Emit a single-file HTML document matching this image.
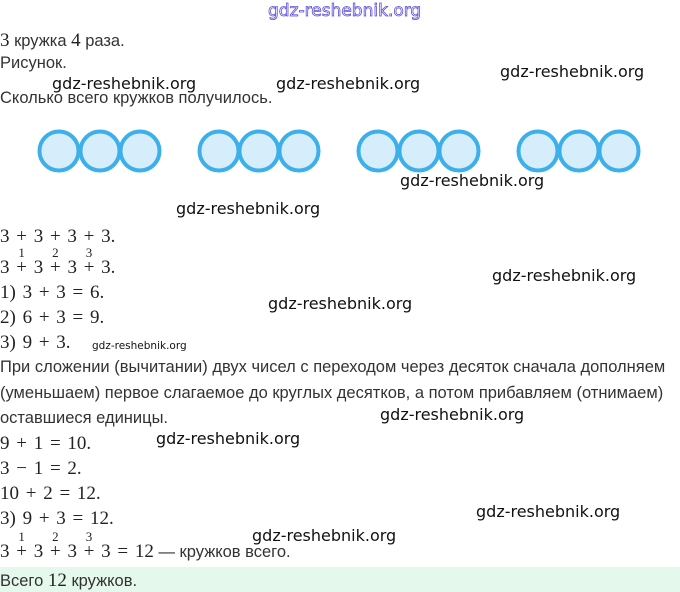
<!DOCTYPE html>
<html><head><meta charset="utf-8"><style>
body{margin:0;width:680px;height:592px;background:#fff;position:relative;overflow:hidden;font-family:"Liberation Sans",sans-serif;color:#333}
.t{position:absolute;left:0;font-size:16.5px;white-space:nowrap;line-height:1}
.m{font-family:"Liberation Serif",serif;font-size:19px;color:#222;word-spacing:2px}
.w{position:absolute;font-family:"DejaVu Sans","Liberation Sans",sans-serif;font-size:16px;color:#111;white-space:nowrap;line-height:1}
.sup{position:relative}
.sup b{position:absolute;font-weight:normal;font-size:13px;top:-11px;left:50%;transform:translateX(-50%)}
</style></head><body>
<div class="w" style="left:268px;top:3px;color:#fff;-webkit-text-stroke:0.8px #5b4fd6;font-size:17px">gdz-reshebnik.org</div>
<div class="t" style="top:31px"><span class="m">3</span> кружка <span class="m">4</span> раза.</div>
<div class="t" style="top:55px">Рисунок.</div>
<div class="t" style="top:90px">Сколько всего кружков получилось.</div>
<div class="w" style="left:52px;top:76px">gdz-reshebnik.org</div>
<div class="w" style="left:276px;top:76px">gdz-reshebnik.org</div>
<div class="w" style="left:500px;top:64px">gdz-reshebnik.org</div>
<svg style="position:absolute;left:0;top:0" width="680" height="200">
<g fill="#d6eefb" stroke="#3db0ea" stroke-width="4">
<circle cx="59" cy="151" r="19.5"/><circle cx="100" cy="151" r="19.5"/><circle cx="140" cy="151" r="19.5"/>
<circle cx="219" cy="151" r="19.5"/><circle cx="259" cy="151" r="19.5"/><circle cx="299" cy="151" r="19.5"/>
<circle cx="378" cy="151" r="19.5"/><circle cx="419" cy="151" r="19.5"/><circle cx="459" cy="151" r="19.5"/>
<circle cx="538" cy="151" r="19.5"/><circle cx="579" cy="151" r="19.5"/><circle cx="619" cy="151" r="19.5"/>
</g></svg>
<div class="w" style="left:400px;top:173px">gdz-reshebnik.org</div>
<div class="w" style="left:176px;top:201px">gdz-reshebnik.org</div>
<div class="t m" style="top:227px">3 + 3 + 3 + 3.</div>
<div class="t m" style="top:258px">3 <span class="sup">+<b>1</b></span> 3 <span class="sup">+<b>2</b></span> 3 <span class="sup">+<b>3</b></span> 3.</div>
<div class="w" style="left:492px;top:268px">gdz-reshebnik.org</div>
<div class="t m" style="top:283px">1) 3 + 3 = 6.</div>
<div class="w" style="left:268px;top:296px">gdz-reshebnik.org</div>
<div class="t m" style="top:308px">2) 6 + 3 = 9.</div>
<div class="t m" style="top:333px">3) 9 + 3.</div>
<div class="w" style="left:92px;top:341px;font-size:10.5px">gdz-reshebnik.org</div>
<div class="t" style="top:359px">При сложении (вычитании) двух чисел с переходом через десяток сначала дополняем</div>
<div class="t" style="top:385px">(уменьшаем) первое слагаемое до круглых десятков, а потом прибавляем (отнимаем)</div>
<div class="t" style="top:410px">оставшиеся единицы.</div>
<div class="w" style="left:380px;top:407px">gdz-reshebnik.org</div>
<div class="t m" style="top:434px">9 + 1 = 10.</div>
<div class="w" style="left:156px;top:431px">gdz-reshebnik.org</div>
<div class="t m" style="top:459px">3 − 1 = 2.</div>
<div class="t m" style="top:484px">10 + 2 = 12.</div>
<div class="t m" style="top:509px">3) 9 + 3 = 12.</div>
<div class="w" style="left:476px;top:504px">gdz-reshebnik.org</div>
<div class="w" style="left:252px;top:528px">gdz-reshebnik.org</div>
<div class="t" style="top:542px"><span class="m">3 <span class="sup">+<b>1</b></span> 3 <span class="sup">+<b>2</b></span> 3 <span class="sup">+<b>3</b></span> 3 = 12</span> — кружков всего.</div>
<div style="position:absolute;left:0;top:567px;width:680px;height:25px;background:#e5f8ec"></div>
<div class="t" style="top:571px">Всего <span class="m">12</span> кружков.</div>
</body></html>
